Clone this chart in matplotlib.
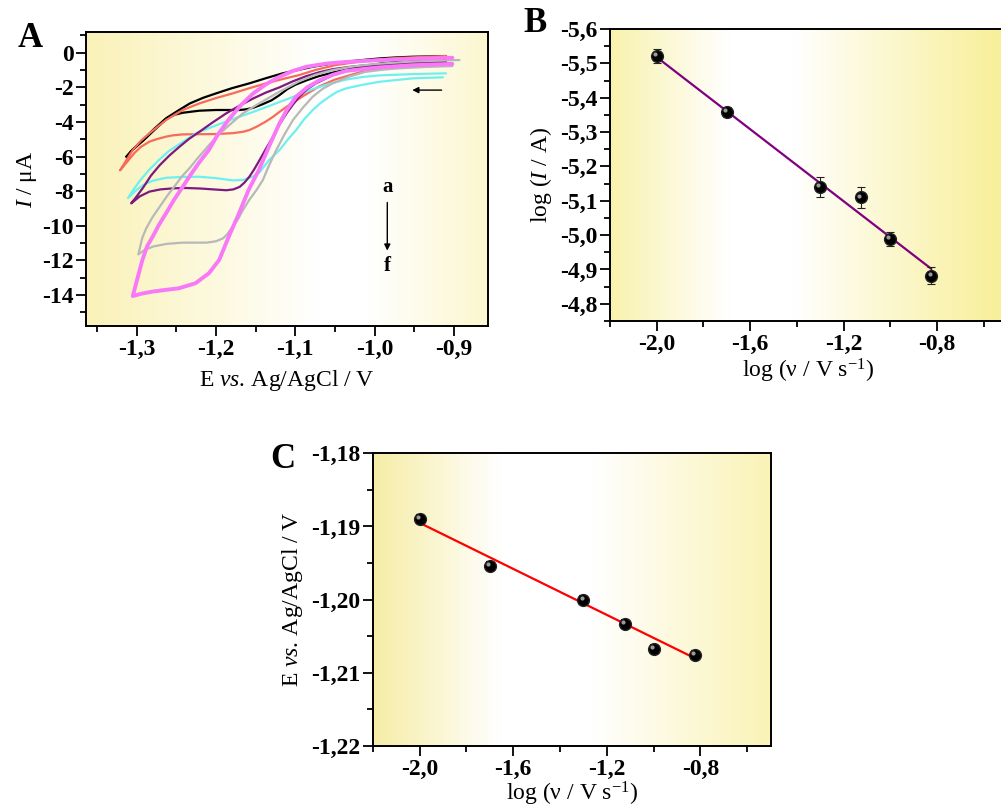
import numpy as np
import matplotlib
matplotlib.use('Agg')
import matplotlib.pyplot as plt
from matplotlib.colors import LinearSegmentedColormap
from matplotlib.ticker import MultipleLocator, FuncFormatter
from matplotlib.transforms import offset_copy

# ---- panel A: cyclic voltammograms (E / V, I / uA); each loop = lower branch then upper branch
E_a = [-0.91, -0.95, -0.99, -1.03, -1.05, -1.07, -1.085, -1.10, -1.11, -1.12, -1.13, -1.141, -1.153, -1.162, -1.170, -1.185,
       -1.20, -1.221, -1.242, -1.252, -1.262, -1.275, -1.292, -1.305, -1.313,
       -1.305, -1.292, -1.278, -1.263, -1.248, -1.233, -1.216, -1.20, -1.18, -1.158, -1.137, -1.116, -1.097, -1.078, -1.057,
       -1.036, -1.015, -0.994, -0.973, -0.952, -0.91]
I_a = [-0.40, -0.45, -0.60, -0.92, -1.12, -1.35, -1.58, -1.85, -2.10, -2.45, -2.75, -2.97, -3.18, -3.27, -3.31, -3.31,
       -3.31, -3.35, -3.47, -3.58, -3.80, -4.35, -5.08, -5.60, -6.01,
       -5.60, -5.04, -4.40, -3.79, -3.35, -2.93, -2.60, -2.35, -2.05, -1.77, -1.47, -1.19, -1.00, -0.81, -0.65,
       -0.52, -0.42, -0.33, -0.27, -0.23, -0.19]

E_b = [-0.91, -0.94, -0.98, -1.02, -1.05, -1.07, -1.09, -1.10, -1.111, -1.12, -1.128, -1.138, -1.149, -1.158, -1.166, -1.179,
       -1.20, -1.22, -1.242, -1.255, -1.263, -1.275, -1.284, -1.295, -1.303, -1.312, -1.321,
       -1.313, -1.305, -1.295, -1.284, -1.273, -1.263, -1.252, -1.242, -1.221, -1.20, -1.179, -1.158, -1.137, -1.116, -1.095,
       -1.075, -1.05, -1.02, -0.994, -0.97, -0.95, -0.91]
I_b = [-0.55, -0.62, -0.82, -1.15, -1.55, -1.95, -2.50, -2.80, -3.12, -3.42, -3.70, -4.00, -4.28, -4.47, -4.57, -4.65,
       -4.70, -4.71, -4.72, -4.78, -4.85, -5.00, -5.14, -5.45, -5.80, -6.30, -6.80,
       -6.20, -5.62, -5.10, -4.66, -4.25, -3.89, -3.58, -3.31, -2.93, -2.62, -2.35, -2.05, -1.77, -1.52, -1.29,
       -1.00, -0.72, -0.52, -0.38, -0.30, -0.26, -0.19]

E_c = [-0.914, -0.952, -0.994, -1.015, -1.036, -1.047, -1.057, -1.068, -1.078, -1.089, -1.099, -1.11, -1.12, -1.133, -1.145,
       -1.153, -1.166, -1.179, -1.20, -1.221, -1.242, -1.263, -1.28, -1.292, -1.302, -1.311,
       -1.304, -1.296, -1.285, -1.272, -1.26, -1.245, -1.225, -1.20, -1.18, -1.158, -1.14, -1.12, -1.095, -1.078, -1.057,
       -1.036, -1.015, -0.994, -0.95, -0.91]
I_c = [-1.42, -1.48, -1.68, -1.85, -2.06, -2.25, -2.54, -2.90, -3.31, -3.85, -4.47, -5.05, -5.63, -6.20, -6.90,
       -7.15, -7.36, -7.38, -7.25, -7.17, -7.18, -7.23, -7.40, -7.65, -8.00, -8.40,
       -7.90, -7.40, -6.80, -6.20, -5.70, -5.25, -4.65, -4.20, -3.85, -3.50, -3.20, -2.85, -2.42, -2.10, -1.80,
       -1.55, -1.40, -1.31, -1.23, -1.19]

E_d = [-0.902, -0.95, -0.99, -1.012, -1.032, -1.053, -1.074, -1.085, -1.095, -1.103, -1.111, -1.12, -1.128, -1.137, -1.145,
       -1.152, -1.158, -1.164, -1.170, -1.178, -1.187, -1.204, -1.22, -1.238, -1.254, -1.27, -1.284, -1.296, -1.307,
       -1.30, -1.292, -1.282, -1.271, -1.259, -1.246, -1.234, -1.221, -1.204, -1.187, -1.17, -1.153, -1.137, -1.12, -1.103,
       -1.086, -1.07, -1.053, -1.032, -1.011, -0.99, -0.969, -0.94, -0.91]
I_d = [-0.62, -0.66, -0.75, -0.85, -1.00, -1.30, -1.77, -2.10, -2.54, -3.00, -3.50, -4.15, -4.85, -5.55, -6.20,
       -6.75, -7.17, -7.50, -7.75, -7.90, -7.95, -7.90, -7.85, -7.82, -7.84, -7.90, -8.03, -8.30, -8.71,
       -8.30, -7.80, -7.10, -6.50, -5.95, -5.43, -4.98, -4.57, -4.02, -3.50, -3.05, -2.64, -2.30, -2.00, -1.65,
       -1.35, -1.13, -0.95, -0.82, -0.72, -0.65, -0.58, -0.52, -0.48]

E_e = [-0.902, -0.935, -0.969, -0.99, -1.011, -1.032, -1.053, -1.066, -1.078, -1.09, -1.103, -1.114, -1.124, -1.133, -1.141,
       -1.149, -1.158, -1.166, -1.172, -1.179, -1.186, -1.191, -1.20, -1.212, -1.242, -1.262, -1.279, -1.29, -1.298,
       -1.293, -1.288, -1.28, -1.271, -1.262, -1.252, -1.243, -1.233, -1.225, -1.21, -1.195, -1.18, -1.166, -1.15, -1.135,
       -1.12, -1.095, -1.075, -1.053, -1.025, -1.0, -0.95, -0.893]
I_e = [-0.77, -0.82, -0.90, -0.98, -1.10, -1.38, -1.77, -2.10, -2.54, -3.15, -3.89, -4.75, -5.62, -6.50, -7.36,
       -7.94, -8.50, -9.09, -9.60, -10.06, -10.50, -10.73, -10.90, -10.98, -10.98, -11.05, -11.20, -11.40, -11.66,
       -10.70, -10.15, -9.50, -8.90, -8.30, -7.70, -7.15, -6.65, -6.20, -5.40, -4.66, -4.05, -3.50, -3.05, -2.65,
       -2.25, -1.65, -1.28, -1.00, -0.78, -0.65, -0.50, -0.42]

E_f = [-0.902, -0.952, -0.995, -1.036, -1.053, -1.070, -1.085, -1.099, -1.11, -1.120, -1.133, -1.146, -1.159, -1.171,
       -1.184, -1.196, -1.209, -1.226, -1.247, -1.265, -1.280, -1.294, -1.305,
       -1.300, -1.293, -1.287, -1.280, -1.272, -1.263, -1.253, -1.242, -1.232, -1.222, -1.209, -1.198, -1.183, -1.168,
       -1.153, -1.137, -1.12, -1.103, -1.086, -1.06, -1.032, -1.0, -0.969, -0.935, -0.902]
I_f = [-0.65, -0.72, -0.85, -1.05, -1.28, -1.60, -2.00, -2.54, -3.25, -4.08, -5.40, -6.78, -7.94, -9.28,
       -10.64, -11.98, -12.75, -13.33, -13.62, -13.72, -13.81, -13.93, -14.07,
       -13.20, -12.00, -11.20, -10.64, -9.95, -9.28, -8.50, -7.75, -7.05, -6.39, -5.62, -4.75, -3.80, -3.00,
       -2.35, -1.82, -1.39, -1.05, -0.81, -0.62, -0.52, -0.44, -0.38, -0.33, -0.29]

cv_E = [E_a, E_b, E_c, E_d, E_e, E_f]
cv_I = [I_a, I_b, I_c, I_d, I_e, I_f]
cv_colors = ['#000000', '#f86a5a', '#6ff0f0', '#7d1a80', '#b8b8b8', '#f878f8']
cv_lw = [1.6, 1.6, 1.6, 1.6, 1.6, 2.8]

# ---- panels B and C: scan rate study
log_v = [-2.0, -1.7, -1.3, -1.124, -1.0, -0.824]
log_I = [-5.522, -5.359, -5.140, -5.110, -4.988, -4.882]
log_I_err = [0.02, 0.015, 0.03, 0.03, 0.02, 0.025]
fit_B = [0.524, -4.470]
Ep = [-1.1890, -1.1954, -1.2000, -1.2033, -1.2067, -1.2075]
Ep_err = [0.0005, 0.0005, 0.0005, 0.0005, 0.0005, 0.0005]
fit_C = [-0.01573, -1.22096]

params = {'font.family': 'Liberation Serif',
          'mathtext.fontset': 'custom',
          'mathtext.rm': 'Liberation Serif',
          'mathtext.it': 'Liberation Serif:italic',
          'mathtext.bf': 'Liberation Serif:bold',
          'axes.unicode_minus': False,
          'axes.linewidth': 1.4,
          'lines.solid_joinstyle': 'round',
          'lines.solid_capstyle': 'round',
          'font.size': 14}
plt.rcParams.update(params)

fig = plt.figure(figsize=(10.01, 8.10), dpi=100)
W, H = 1001., 810.


def px_axes(l, t, r, b):
    return fig.add_axes([l / W, 1 - b / H, (r - l) / W, (b - t) / H])


def background(ax, left, p1, p2, right):
    cmap = LinearSegmentedColormap.from_list('bg', [(0, left), (p1, 'white'), (p2, 'white'), (1, right)])
    ax.imshow(np.linspace(0, 1, 256)[None, :], extent=[0, 1, 0, 1], transform=ax.transAxes,
              aspect='auto', cmap=cmap, zorder=0, interpolation='bilinear')


def style(ax, fx, fy):
    ax.tick_params(which='both', direction='out', top=False, right=False, width=1.3, pad=2)
    ax.tick_params(which='major', length=7)
    ax.tick_params(which='minor', length=4)
    ax.xaxis.set_major_formatter(FuncFormatter(lambda v, p: (fx % v).replace('.', ',')))
    ax.yaxis.set_major_formatter(FuncFormatter(lambda v, p: (fy % v).replace('.', ',')))
    for t in ax.get_xticklabels() + ax.get_yticklabels():
        t.set_fontweight('bold')
        t.set_fontsize(17)


def spheres(ax, x, y, err, lw, ec):
    ax.errorbar(x, y, yerr=err, fmt='o', color='black', ms=8.5, mec='#222222',
                ecolor=ec, elinewidth=lw, capsize=3, capthick=lw, zorder=3)
    hl = offset_copy(ax.transData, fig=fig, x=-1.3, y=1.3, units='points')
    ax.plot(x, y, 'o', ms=3, color='#9a9a9a', mec='none', transform=hl, zorder=4)


E_label = r'$\mathrm{E}\ \mathit{vs.}\,\mathrm{Ag/AgCl\ /\ V}$'

# ---------------- A
ax = px_axes(86, 32, 488, 326)
background(ax, '#faf2b8', 0.58, 0.70, '#fcf7cf')
for i in range(len(cv_E)):
    ax.plot(cv_E[i], cv_I[i], color=cv_colors[i], lw=cv_lw[i], zorder=2 + (i == 5))
ax.set_xlim(-1.364, -0.857)
ax.set_ylim(-15.8, 1.2)
ax.xaxis.set_major_locator(MultipleLocator(0.1))
ax.xaxis.set_minor_locator(MultipleLocator(0.05))
ax.yaxis.set_major_locator(MultipleLocator(2))
ax.yaxis.set_minor_locator(MultipleLocator(1))
style(ax, '%.1f', '%.0f')
ax.set_xlabel(E_label, fontsize=17, labelpad=6)
ax.set_ylabel(r'$\mathit{I}\ \mathrm{/\ \mu A}$', fontsize=17, labelpad=2)
ax.text(-0.984, -7.76, 'a', fontsize=15, fontweight='bold', ha='center', va='center')
ax.text(-0.984, -12.35, 'f', fontsize=15, fontweight='bold', ha='center', va='center')
ax.annotate('', xy=(-0.984, -11.6), xytext=(-0.984, -8.5),
            arrowprops=dict(arrowstyle='-|>', color='black', lw=1.0, mutation_scale=9))
ax.annotate('', xy=(-0.956, -2.16), xytext=(-0.912, -2.16),
            arrowprops=dict(arrowstyle='-|>', color='black', lw=1.0, mutation_scale=9))

# ---------------- B
ax = px_axes(610, 29, 1007, 321)
background(ax, '#f9f2ae', 0.30, 0.46, '#f8ef96')
xs = np.array([min(log_v), max(log_v)])
ax.plot(xs, np.polyval(fit_B, xs), color='#800080', lw=1.6, zorder=2)
spheres(ax, log_v, log_I, log_I_err, 0.8, '#222222')
ax.set_xlim(-2.2, -0.5)
ax.set_ylim(-4.75, -5.6)
ax.xaxis.set_major_locator(MultipleLocator(0.4))
ax.xaxis.set_minor_locator(MultipleLocator(0.2))
ax.yaxis.set_major_locator(MultipleLocator(0.1))
ax.yaxis.set_minor_locator(MultipleLocator(0.05))
style(ax, '%.1f', '%.1f')
ax.set_xlabel('log (\u03bd / V s$^{-1}$)', fontsize=17, labelpad=2)
ax.set_ylabel('log ($\\mathit{I}$ / A)', fontsize=17, labelpad=4)

# ---------------- C
ax = px_axes(372.7, 453.3, 770.7, 746)
background(ax, '#f6eda6', 0.32, 0.55, '#faf3b6')
ax.plot(xs, np.polyval(fit_C, xs), color='#ff0000', lw=1.6, zorder=2)
spheres(ax, log_v, Ep, Ep_err, 1.5, 'black')
ax.set_xlim(-2.2, -0.5)
ax.set_ylim(-1.22, -1.18)
ax.xaxis.set_major_locator(MultipleLocator(0.4))
ax.xaxis.set_minor_locator(MultipleLocator(0.2))
ax.yaxis.set_major_locator(MultipleLocator(0.01))
ax.yaxis.set_minor_locator(MultipleLocator(0.005))
style(ax, '%.1f', '%.2f')
ax.set_xlabel('log (\u03bd / V s$^{-1}$)', fontsize=17, labelpad=0)
ax.set_ylabel(E_label, fontsize=17, labelpad=4)

fig.text(18 / W, 1 - 47 / H, 'A', fontsize=25, fontweight='bold')
fig.text(523 / W, 1 - 32 / H, 'B', fontsize=25, fontweight='bold')
fig.text(270 / W, 1 - 468 / H, 'C', fontsize=25, fontweight='bold')

plt.savefig('out.png', dpi=100)
